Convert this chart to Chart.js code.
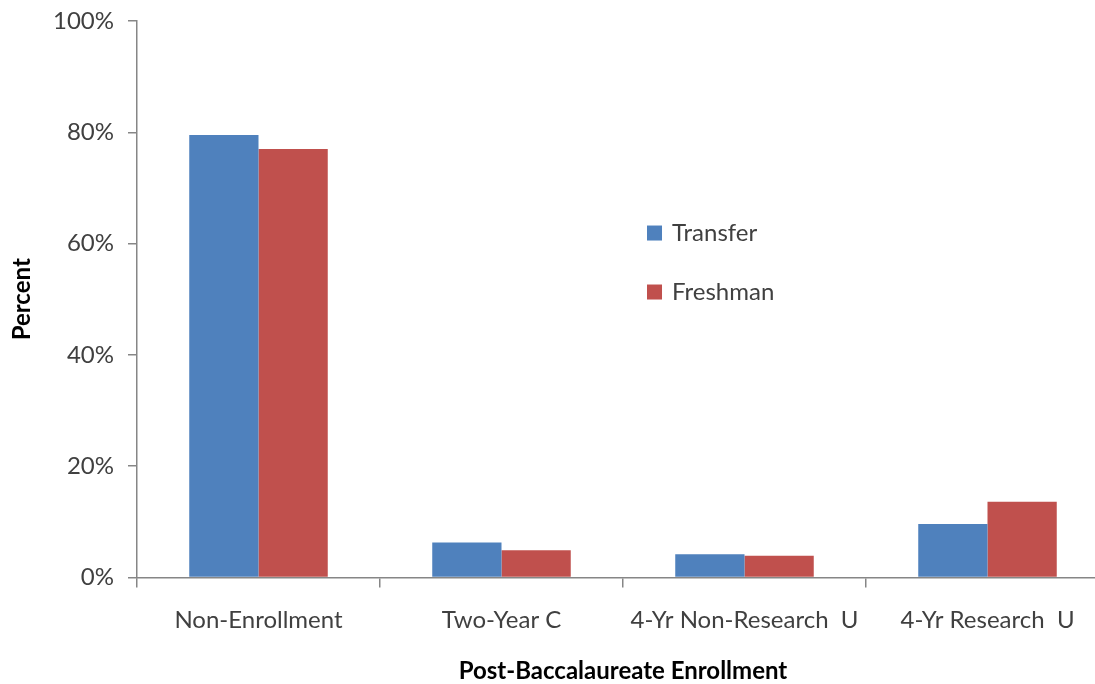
<!DOCTYPE html>
<html>
<head>
<meta charset="utf-8">
<script src="https://cdn.jsdelivr.net/npm/chart.js@4/dist/chart.umd.min.js"></script>
<style>
  html, body { margin: 0; padding: 0; background: #fff; overflow: hidden; }
  #wrap { position: relative; width: 1112px; height: 686px; }
</style>
</head>
<body>
<div id="wrap"><canvas id="c"></canvas></div>
<script>
const categories = ["Non-Enrollment", "Two-Year C", "4-Yr Non-Research  U", "4-Yr Research  U"];
const transfer = [79.5, 6.3, 4.2, 9.6];
const freshman = [77.0, 4.9, 3.9, 13.6];
const seriesNames = ["Transfer", "Freshman"];
const yTicks = [0, 20, 40, 60, 80, 100];

const FONT = "Lato, 'Open Sans', sans-serif";

const insideLegend = {
  id: 'insideLegend',
  afterDraw(chart) {
    const ctx = chart.ctx;
    const a = chart.chartArea;
    const x0 = a.left + (a.right - a.left) * 0.5247;
    const ys = [a.top + (a.bottom - a.top) * 0.381, a.top + (a.bottom - a.top) * 0.487];
    ctx.save();
    ctx.font = "24px " + FONT;
    ctx.textBaseline = 'middle';
    chart.data.datasets.forEach((ds, i) => {
      ctx.fillStyle = ds.backgroundColor;
      ctx.fillRect(x0, ys[i] - 7.5, 15, 15);
      ctx.fillStyle = '#404040';
      ctx.fillText(ds.label, x0 + 25, ys[i]);
    });
    ctx.restore();
  }
};

new Chart(document.getElementById('c'), {
  type: 'bar',
  data: {
    labels: categories,
    datasets: [
      { label: seriesNames[0], data: transfer, backgroundColor: '#4F81BD' },
      { label: seriesNames[1], data: freshman, backgroundColor: '#C0504D' }
    ]
  },
  options: {
    responsive: true,
    maintainAspectRatio: false,
    animation: false,
    layout: { padding: { top: 21, right: 3, left: 8, bottom: 0 } },
    plugins: { legend: { display: false }, tooltip: { enabled: false } },
    datasets: { bar: { categoryPercentage: 0.57, barPercentage: 1.0 } },
    scales: {
      x: {
        afterFit(scale) { scale.height = 108.5; },
        grid: { display: true, drawOnChartArea: false, drawTicks: true, tickLength: 10, offset: true, color: '#868686', lineWidth: 1.5 },
        border: { color: '#868686', width: 1.5 },
        ticks: { color: '#404040', font: { family: FONT, size: 24 }, padding: 18, maxRotation: 0, autoSkip: false },
        title: { display: true, text: 'Post-Baccalaureate Enrollment', color: '#000', font: { family: FONT, size: 24, weight: 'bold' }, padding: { top: 10, bottom: 0 } }
      },
      y: {
        min: 0, max: 100,
        afterBuildTicks(scale) { scale.ticks = yTicks.map(v => ({ value: v })); },
        afterFit(scale) { scale.width = 129; scale.paddingTop = 0; scale.paddingBottom = 0; },
        grid: { display: true, drawOnChartArea: false, drawTicks: true, tickLength: 9, color: '#868686', lineWidth: 1.5 },
        border: { color: '#868686', width: 1.5 },
        ticks: { color: '#404040', font: { family: FONT, size: 24 }, padding: 14, callback: v => v + '%' },
        title: { display: true, text: 'Percent', color: '#000', font: { family: FONT, size: 24, weight: 'bold' }, padding: { top: 0, bottom: 0 } }
      }
    }
  },
  plugins: [insideLegend]
});
</script>
</body>
</html>
